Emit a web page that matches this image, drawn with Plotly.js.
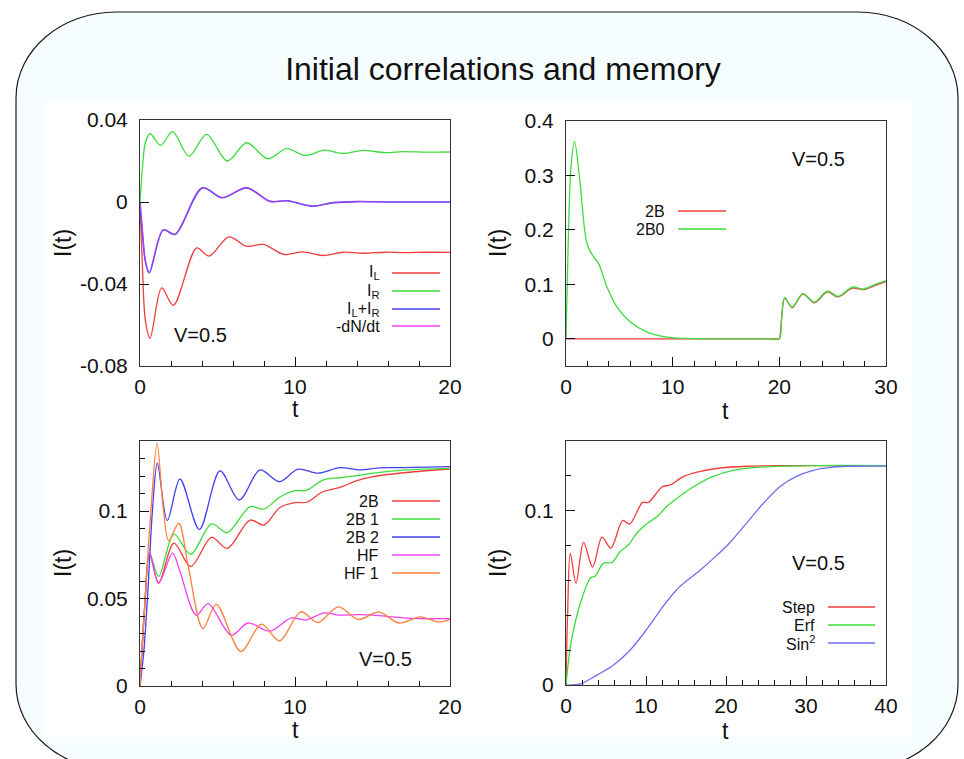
<!DOCTYPE html>
<html>
<head>
<meta charset="utf-8">
<script src="https://cdn.plot.ly/plotly-3.0.1.min.js"></script>
<style>
html,body{margin:0;padding:0;background:#fff;overflow:hidden;}
#chart{width:964px;height:759px;}
</style>
</head>
<body>
<div id="chart"></div>
<script>
// ---------------- DATA ----------------
// Panel 1 (top-left): currents, V=0.5
const p1_t_IL = [0, 0.15, 0.35, 0.65, 1.4, 2.15, 3.66, 4.45, 5.74, 6.88, 7.96, 9.3, 10.5, 11.8, 13.1, 14.4, 15.8, 17, 18.5, 20];
const p1_IL   = [0, -0.03, -0.058, -0.0665, -0.0419, -0.0504, -0.0224, -0.0264, -0.017, -0.0216, -0.0207, -0.0256, -0.0243, -0.0261, -0.0245, -0.025, -0.0245, -0.0247, -0.0245, -0.0246];
const p1_t_IR = [0, 0.15, 0.35, 0.65, 1.33, 2.1, 3.16, 4.3, 5.63, 6.88, 8.24, 9.46, 10.65, 11.9, 13.1, 14.4, 15.8, 17, 18.5, 20];
const p1_IR   = [0, 0.016, 0.029, 0.0333, 0.0276, 0.0343, 0.0224, 0.033, 0.020, 0.0289, 0.0211, 0.026, 0.0227, 0.0253, 0.0237, 0.0252, 0.0241, 0.0246, 0.0243, 0.0244];
const p1_t_sum = [0, 0.15, 0.35, 0.6, 1.5, 2.26, 4.02, 5.3, 6.88, 8.4, 9.5, 11.1, 12.5, 14, 16, 18, 20];
const p1_sum   = [0, -0.014, -0.029, -0.0345, -0.0136, -0.0158, 0.0069, 0.0021, 0.0069, 0.0003, 0.0006, -0.002, -0.0003, 0.0002, 0, 0, 0];
const p1_t_dN  = [0, 0.15, 0.35, 0.6, 1.5, 2.26, 4.02, 5.3, 6.88, 8.4, 9.5, 11.1, 12.5, 14, 16, 18, 20];
const p1_dN    = [0, -0.014, -0.029, -0.0345, -0.0136, -0.0158, 0.0069, 0.0021, 0.0069, 0.0003, 0.0006, -0.002, -0.0003, 0.0002, 0, 0, 0];

// Panel 2 (top-right): 2B and 2B0
const p2_t_2B0 = [0, 0.2, 0.45, 0.8, 1.3, 1.97, 2.6, 3.06, 3.84, 4.78, 6.03, 7.6, 9.46, 11.3, 13, 15, 17, 19, 20, 20.2, 20.5, 21.2, 22.2, 23.3, 24.5, 25.5, 26.85, 27.9, 29, 30];
const p2_2B0   = [0, 0.17, 0.31, 0.363, 0.29, 0.175, 0.150, 0.138, 0.095, 0.058, 0.031, 0.0123, 0.003, 0.0006, 0, 0, 0, 0, 0, 0.035, 0.0755, 0.058, 0.083, 0.0675, 0.0877, 0.078, 0.095, 0.0914, 0.100, 0.107];
const p2_t_2B  = [0, 5, 10, 15, 19.9, 20, 20.2, 20.5, 21.2, 22.2, 23.3, 24.5, 25.5, 26.85, 27.9, 29, 30];
const p2_2B    = [0, 0, 0, 0, 0, 0, 0.034, 0.0745, 0.057, 0.082, 0.066, 0.086, 0.077, 0.093, 0.0905, 0.098, 0.105];

// Panel 3 (bottom-left): 2B, 2B 1, 2B 2, HF, HF 1
const p3_t_2B  = [0, 0.3, 0.62, 1.2, 2.19, 3.27, 4.62, 5.63, 7.1, 8.0, 9.03, 10, 10.75, 11.8, 12.9, 14, 15.05, 17.2, 20];
const p3_2B    = [0, 0.045, 0.0759, 0.0588, 0.0816, 0.0683, 0.0849, 0.0786, 0.0948, 0.092, 0.102, 0.1048, 0.105, 0.111, 0.1135, 0.1174, 0.1197, 0.122, 0.124];
const p3_t_2B1 = [0, 0.3, 0.62, 1.2, 2.19, 3.27, 4.62, 5.63, 7.1, 8.0, 9.03, 10, 10.75, 11.8, 12.9, 14, 15.05, 17.2, 20];
const p3_2B1   = [0, 0.045, 0.0759, 0.0626, 0.0868, 0.0753, 0.0926, 0.0876, 0.1025, 0.1011, 0.108, 0.1116, 0.1118, 0.1177, 0.119, 0.1202, 0.1216, 0.1235, 0.1244];
const p3_t_2B2 = [0, 0.25, 0.52, 0.8, 1.12, 1.76, 2.58, 3.83, 5.16, 6.41, 7.74, 8.99, 10.2, 11.5, 12.9, 14.1, 15.5, 17, 20];
const p3_2B2   = [0, 0.02, 0.056, 0.1, 0.1273, 0.0945, 0.1183, 0.0895, 0.1229, 0.1063, 0.1235, 0.1168, 0.1239, 0.1216, 0.1248, 0.1235, 0.1247, 0.1248, 0.1254];
const p3_t_HF  = [0, 0.3, 0.62, 1.2, 2.1, 2.56, 3.63, 4.39, 5.89, 6.97, 8.37, 9.76, 10.7, 11.9, 12.8, 14.2, 15.05, 16.8, 18.06, 20];
const p3_HF    = [0, 0.045, 0.0759, 0.0588, 0.0759, 0.066, 0.0404, 0.0471, 0.029, 0.036, 0.0313, 0.0389, 0.0377, 0.0418, 0.0405, 0.0408, 0.0405, 0.0391, 0.0385, 0.0385];
const p3_t_HF1 = [0, 0.3, 0.7, 1.1, 1.48, 1.85, 2.5, 3.1, 4.06, 4.92, 6.5, 7.83, 9.01, 10.37, 11.48, 12.8, 14.1, 15.4, 16.7, 18.1, 19.25, 20];
const p3_HF1   = [0, 0.045, 0.1, 0.1388, 0.1035, 0.083, 0.093, 0.069, 0.0328, 0.0467, 0.0198, 0.0353, 0.0258, 0.0424, 0.0363, 0.0452, 0.038, 0.0424, 0.036, 0.0395, 0.0366, 0.038];

// Panel 4 (bottom-right): Step, Erf, Sin^2
const p4_t_step = [0, 0.2, 0.54, 1.25, 2.2, 3.33, 4.5, 5.6, 7.1, 7.95, 9.57, 10.3, 12, 13.03, 14.7, 16.8, 19.3, 22.6, 26, 30, 40];
const p4_step   = [0, 0.040, 0.0757, 0.0584, 0.0818, 0.0676, 0.0849, 0.0785, 0.0944, 0.0923, 0.1048, 0.1048, 0.1136, 0.1148, 0.1197, 0.1226, 0.1245, 0.1255, 0.1258, 0.1259, 0.1259];
const p4_t_erf  = [0, 0.54, 1.17, 2, 3.04, 3.66, 4.7, 5.74, 6.78, 7.82, 8.86, 10.1, 11.4, 12.6, 14.3, 16.35, 18.4, 20.9, 24.7, 30.9, 40];
const p4_erf    = [0, 0.022, 0.0364, 0.0498, 0.0613, 0.0626, 0.0699, 0.0703, 0.0766, 0.0805, 0.0872, 0.0925, 0.0967, 0.1024, 0.1086, 0.1149, 0.1197, 0.1232, 0.1251, 0.1259, 0.1259];
const p4_t_sin2 = [0, 1.8, 3.87, 5.95, 8.03, 10.1, 12.2, 13.86, 15.3, 16.8, 18.4, 20.5, 22.6, 24.7, 26.8, 28.8, 30.9, 33, 35.1, 40];
const p4_sin2   = [0, 0.0006, 0.0057, 0.0115, 0.0201, 0.032, 0.0455, 0.0548, 0.0605, 0.066, 0.0725, 0.0818, 0.093, 0.1044, 0.114, 0.1197, 0.1232, 0.1249, 0.1255, 0.1256];

// Tick labels
const p1_xticks = [0, 10, 20];
const p1_yticks = [0.04, 0, -0.04, -0.08];
const p1_ytext  = ["0.04", "0", "-0.04", "-0.08"];
const p2_xticks = [0, 10, 20, 30];
const p2_yticks = [0, 0.1, 0.2, 0.3, 0.4];
const p2_ytext  = ["0", "0.1", "0.2", "0.3", "0.4"];
const p3_xticks = [0, 10, 20];
const p3_yticks = [0, 0.05, 0.1];
const p3_ytext  = ["0", "0.05", "0.1"];
const p4_xticks = [0, 10, 20, 30, 40];
const p4_yticks = [0, 0.1];
const p4_ytext  = ["0", "0.1"];

// ---------------- STYLE ----------------
const W = 964, H = 759;
const PX = x => x / W;
const PY = y => 1 - y / H;
const FONT = 'Liberation Sans, Arial, Helvetica, sans-serif';
const RED = '#f23c3c', GREEN = '#3cdc3c', BLUE = '#4040f0', MAG = '#f040f0', ORANGE = '#ff8040', LBLUE = '#6e6ef2';

function line(x, y, color, xa, ya, name, w, op) {
  return {x: x, y: y, type: 'scatter', mode: 'lines', name: name, xaxis: xa, yaxis: ya,
    line: {color: color, width: w || 1.3, shape: 'spline', smoothing: 0.9}, opacity: op || 1,
    showlegend: false, hoverinfo: 'skip'};
}

const data = [
  line(p1_t_IL, p1_IL, RED, 'x', 'y', 'I_L'),
  line(p1_t_IR, p1_IR, GREEN, 'x', 'y', 'I_R'),
  line(p1_t_sum, p1_sum, BLUE, 'x', 'y', 'I_L+I_R', 1.6),
  line(p1_t_dN, p1_dN, MAG, 'x', 'y', '-dN/dt', 1.2, 0.55),

  line(p2_t_2B, p2_2B, RED, 'x2', 'y2', '2B'),
  line(p2_t_2B0, p2_2B0, GREEN, 'x2', 'y2', '2B0'),

  line(p3_t_2B, p3_2B, RED, 'x3', 'y3', '2B'),
  line(p3_t_2B1, p3_2B1, GREEN, 'x3', 'y3', '2B 1'),
  line(p3_t_2B2, p3_2B2, BLUE, 'x3', 'y3', '2B 2'),
  line(p3_t_HF, p3_HF, MAG, 'x3', 'y3', 'HF'),
  line(p3_t_HF1, p3_HF1, ORANGE, 'x3', 'y3', 'HF 1'),

  line(p4_t_step, p4_step, RED, 'x4', 'y4', 'Step'),
  line(p4_t_erf, p4_erf, GREEN, 'x4', 'y4', 'Erf'),
  line(p4_t_sin2, p4_sin2, LBLUE, 'x4', 'y4', 'Sin^2'),
];

function axis(domainPx, range, tickvals, ticktext, minorDtick, anchor, isY) {
  const dom = isY ? [PY(domainPx[1]), PY(domainPx[0])] : [PX(domainPx[0]), PX(domainPx[1])];
  const a = {
    domain: dom, range: range, anchor: anchor, autorange: false, fixedrange: true,
    showgrid: false, zeroline: false, showline: true, mirror: true,
    linecolor: '#333', linewidth: 1,
    ticks: 'inside', ticklen: 9, tickwidth: 1, tickcolor: '#111',
    tickmode: 'array', tickvals: tickvals, ticktext: ticktext || tickvals.map(String),
    tickfont: {family: FONT, size: 21, color: '#111'},
    ticklabelstandoff: isY ? 7 : 2
  };
  if (minorDtick) {
    a.minor = {ticks: 'inside', ticklen: 5, tickwidth: 1, tickcolor: '#111', tickmode: 'linear', tick0: 0, dtick: minorDtick, showgrid: false};
  }
  return a;
}

const L1 = [140, 450], T1 = [120, 366];
const L2 = [566, 886], T2 = [121, 366];
const L3 = [140, 450], T3 = [441, 686];
const L4 = [566, 886], T4 = [441, 685];

// rounded frame path
function roundRect(x0, y0, x1, y1, rx, ry) {
  const k = 0.5523;
  const P = (x, y) => PX(x).toFixed(5) + ',' + PY(y).toFixed(5);
  return 'M' + P(x0 + rx, y0) +
    ' L' + P(x1 - rx, y0) +
    ' C' + P(x1 - rx + k * rx, y0) + ' ' + P(x1, y0 + ry - k * ry) + ' ' + P(x1, y0 + ry) +
    ' L' + P(x1, y1 - ry) +
    ' C' + P(x1, y1 - ry + k * ry) + ' ' + P(x1 - rx + k * rx, y1) + ' ' + P(x1 - rx, y1) +
    ' L' + P(x0 + rx, y1) +
    ' C' + P(x0 + rx - k * rx, y1) + ' ' + P(x0, y1 - ry + k * ry) + ' ' + P(x0, y1 - ry) +
    ' L' + P(x0, y0 + ry) +
    ' C' + P(x0, y0 + ry - k * ry) + ' ' + P(x0 + rx - k * rx, y0) + ' ' + P(x0 + rx, y0) + ' Z';
}

const shapes = [
  {type: 'path', xref: 'paper', yref: 'paper', layer: 'below', path: roundRect(16, 12, 958, 770, 100, 86),
   fillcolor: '#f6fdfe', line: {color: '#1a1a1a', width: 1.2}},
  {type: 'rect', xref: 'paper', yref: 'paper', layer: 'below', x0: PX(45), x1: PX(911), y0: PY(737), y1: PY(102),
   fillcolor: '#ffffff', line: {width: 0}}
];

const annotations = [];
function txt(x, y, text, size, xanchor, angle) {
  annotations.push({xref: 'paper', yref: 'paper', x: PX(x), y: PY(y), text: text, showarrow: false,
    xanchor: xanchor || 'center', yanchor: 'middle', textangle: angle || 0,
    font: {family: FONT, size: size, color: '#111'}});
}
function legend(textRight, lineX0, lineX1, ys, labels, colors) {
  for (let i = 0; i < labels.length; i++) {
    txt(textRight, ys[i], labels[i], 16, 'right');
    shapes.push({type: 'line', xref: 'paper', yref: 'paper', layer: 'above',
      x0: PX(lineX0), x1: PX(lineX1), y0: PY(ys[i]), y1: PY(ys[i]), line: {color: colors[i], width: 1.3}});
  }
}

// axis titles
txt(63, 243, 'I(t)', 23, 'center', -90);
txt(498, 243, 'I(t)', 23, 'center', -90);
txt(63, 563, 'I(t)', 23, 'center', -90);
txt(498, 563, 'I(t)', 23, 'center', -90);
txt(295, 409, 't', 23);
txt(725, 411, 't', 23);
txt(295, 730, 't', 23);
txt(725, 731, 't', 23);

// V=0.5 labels
txt(200, 335, 'V=0.5', 20);
txt(818, 159, 'V=0.5', 20);
txt(385, 659, 'V=0.5', 20);
txt(818, 563, 'V=0.5', 20);

legend(382, 392, 440, [273, 291, 309, 326],
  ['I<sub>L</sub>', 'I<sub>R</sub>', 'I<sub>L</sub>+I<sub>R</sub>', '-dN/dt'], [RED, GREEN, BLUE, MAG]);
legend(667, 678, 726, [211, 229], ['2B', '2B0'], [RED, GREEN]);
legend(381, 392, 440, [501, 519, 537, 555, 573], ['2B', '2B 1', '2B 2', 'HF', 'HF 1'], [RED, GREEN, BLUE, MAG, ORANGE]);
legend(817, 828, 875, [607, 625, 643], ['Step', 'Erf', 'Sin<sup>2</sup>'], [RED, GREEN, LBLUE]);

const layout = {
  width: W, height: H,
  margin: {l: 0, r: 0, t: 0, b: 0, pad: 0},
  paper_bgcolor: '#ffffff', plot_bgcolor: 'rgba(0,0,0,0)',
  showlegend: false,
  title: {text: 'Initial correlations and memory', x: PX(503), y: PY(69), xanchor: 'center', yanchor: 'middle',
    xref: 'paper', yref: 'container', font: {family: FONT, size: 32, color: '#111'}},
  xaxis:  axis(L1, [0, 20], p1_xticks, null, 2, 'y', false),
  yaxis:  axis(T1, [-0.08, 0.04], p1_yticks, p1_ytext, null, 'x', true),
  xaxis2: axis(L2, [0, 30], p2_xticks, null, 2, 'y2', false),
  yaxis2: axis(T2, [-0.05, 0.4], p2_yticks, p2_ytext, null, 'x2', true),
  xaxis3: axis(L3, [0, 20], p3_xticks, null, 2, 'y3', false),
  yaxis3: axis(T3, [0, 0.14], p3_yticks, p3_ytext, 0.01, 'x3', true),
  xaxis4: axis(L4, [0, 40], p4_xticks, null, 2, 'y4', false),
  yaxis4: axis(T4, [0, 0.14], p4_yticks, p4_ytext, 0.02, 'x4', true),
  shapes: shapes,
  annotations: annotations
};

Plotly.newPlot('chart', data, layout, {staticPlot: true, displayModeBar: false});
</script>
</body>
</html>
